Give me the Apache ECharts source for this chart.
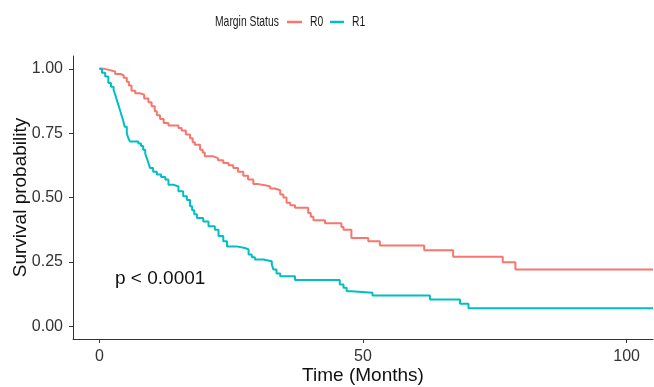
<!DOCTYPE html>
<html>
<head>
<meta charset="utf-8">
<script src="https://cdn.jsdelivr.net/npm/echarts@6/dist/echarts.min.js"></script>
<style>html,body{margin:0;padding:0;background:#fff}#chart{width:654px;height:387px}</style>
</head>
<body>
<div id="chart"></div>
<script>
const xTicks = [0, 50, 100];
const yTicks = [0, 0.25, 0.5, 0.75, 1];
const legendTitle = 'Margin Status';
const seriesNames = ['R0', 'R1'];
const pText = 'p < 0.0001';

const r0 = [[0,1.0],[1,0.995],[2,0.99],[3,0.98],[4,0.975],[4.6,0.965],[5.2,0.95],[5.6,0.935],[6.1,0.915],[6.8,0.905],[7.7,0.9],[8.5,0.885],[9.3,0.87],[9.9,0.855],[10.5,0.835],[10.9,0.82],[11.5,0.805],[12.2,0.79],[13.1,0.78],[15.0,0.77],[15.6,0.76],[16.4,0.745],[17.2,0.73],[17.7,0.715],[18.1,0.705],[19.1,0.686],[19.6,0.675],[20,0.66],[21.6,0.653],[22.5,0.645],[23.5,0.634],[24.5,0.625],[25.4,0.615],[26.3,0.6],[27.3,0.585],[28.2,0.57],[29.2,0.552],[30.2,0.548],[31.4,0.543],[32.4,0.535],[33.3,0.528],[34.3,0.512],[34.9,0.5],[35.5,0.48],[36.2,0.47],[37.1,0.46],[39.6,0.44],[40.1,0.425],[40.6,0.412],[42.8,0.4],[45.9,0.385],[46.3,0.375],[47.8,0.343],[51,0.33],[53.2,0.313],[61.6,0.295],[67.1,0.27],[76.5,0.248],[78.9,0.22],[105,0.22]];
const r1 = [[0,1.0],[0.5,0.985],[1.1,0.97],[1.7,0.945],[2.2,0.93],[2.7,0.918],[3.0,0.9],[3.3,0.88],[3.6,0.86],[3.9,0.84],[4.2,0.82],[4.5,0.8],[4.8,0.775],[5.2,0.75],[5.5,0.73],[5.8,0.718],[7.4,0.71],[7.9,0.7],[8.3,0.686],[8.7,0.67],[9.0,0.653],[9.3,0.635],[9.6,0.615],[10.2,0.6],[10.9,0.589],[11.7,0.58],[12.5,0.57],[13.1,0.55],[14.0,0.543],[15.0,0.524],[15.9,0.505],[16.6,0.49],[17.2,0.466],[17.6,0.45],[18.0,0.435],[18.5,0.42],[19.7,0.407],[20.7,0.388],[21.9,0.375],[22.6,0.35],[23.5,0.33],[24.2,0.31],[26,0.304],[27.6,0.298],[28.3,0.278],[28.9,0.268],[29.5,0.259],[31.1,0.252],[32.7,0.24],[33,0.22],[33.6,0.205],[34.3,0.194],[37.1,0.179],[45.6,0.162],[46.3,0.149],[46.9,0.136],[47.8,0.13],[51.8,0.119],[62.7,0.104],[68.4,0.087],[70,0.07],[105,0.07]];

const colors = ['#F8766D', '#00BFC4'];
const FONT = '"Liberation Sans", Arial, sans-serif';

// legend drawn as graphic so its condensed text can be matched
const legendY = 22;
const legendFont = '15px ' + FONT;
const sx = 0.69;
const legendGraphic = [
  {type: 'text', x: 215, y: legendY, scaleX: sx, silent: true, style: {text: legendTitle, font: legendFont, fill: '#1a1a1a', verticalAlign: 'middle'}},
  {type: 'line', silent: true, shape: {x1: 287, y1: legendY, x2: 302, y2: legendY}, style: {stroke: colors[0], lineWidth: 2.5}},
  {type: 'text', x: 310, y: legendY, scaleX: sx, silent: true, style: {text: seriesNames[0], font: legendFont, fill: '#1a1a1a', verticalAlign: 'middle'}},
  {type: 'line', silent: true, shape: {x1: 330, y1: legendY, x2: 344, y2: legendY}, style: {stroke: colors[1], lineWidth: 2.5}},
  {type: 'text', x: 352, y: legendY, scaleX: sx, silent: true, style: {text: seriesNames[1], font: legendFont, fill: '#1a1a1a', verticalAlign: 'middle'}}
];

const chart = echarts.init(document.getElementById('chart'), null, {renderer: 'canvas'});
chart.setOption({
  animation: false,
  color: colors,
  legend: {show: false, data: seriesNames},
  grid: {left: 73, right: 1, top: 56, bottom: 48, containLabel: false, outerBoundsMode: 'none'},
  graphic: legendGraphic.concat([
    {type: 'text', left: 115, top: 269, style: {text: pText, font: '19px ' + FONT, fill: '#111'}}
  ]),
  xAxis: {
    type: 'value', min: -5, max: 105,
    name: 'Time (Months)', nameLocation: 'middle', nameGap: 27, nameMoveOverlap: false,
    nameTextStyle: {fontFamily: FONT, fontSize: 19, color: '#111', verticalAlign: 'top'},
    axisLine: {onZero: false, lineStyle: {color: '#333', width: 1}},
    axisTick: {show: true, length: 4, lineStyle: {color: '#333'}, customValues: xTicks},
    axisLabel: {fontFamily: FONT, fontSize: 16, color: '#333', margin: 10, customValues: xTicks},
    splitLine: {show: false}
  },
  yAxis: {
    type: 'value', min: -0.05, max: 1.05,
    name: 'Survival probability', nameLocation: 'middle', nameGap: 43, nameMoveOverlap: false,
    nameTextStyle: {fontFamily: FONT, fontSize: 19, color: '#111'},
    axisLine: {show: true, onZero: false, lineStyle: {color: '#333', width: 1}},
    axisTick: {show: true, length: 4, lineStyle: {color: '#333'}, customValues: yTicks},
    axisLabel: {fontFamily: FONT, fontSize: 16, color: '#333', margin: 10, customValues: yTicks,
      formatter: v => v.toFixed(2)},
    splitLine: {show: false}
  },
  series: [
    {name: seriesNames[0], type: 'line', step: 'end', data: r0, symbol: 'none', lineStyle: {width: 2}, clip: true},
    {name: seriesNames[1], type: 'line', step: 'end', data: r1, symbol: 'none', lineStyle: {width: 2}, clip: true}
  ]
});
</script>
</body>
</html>
